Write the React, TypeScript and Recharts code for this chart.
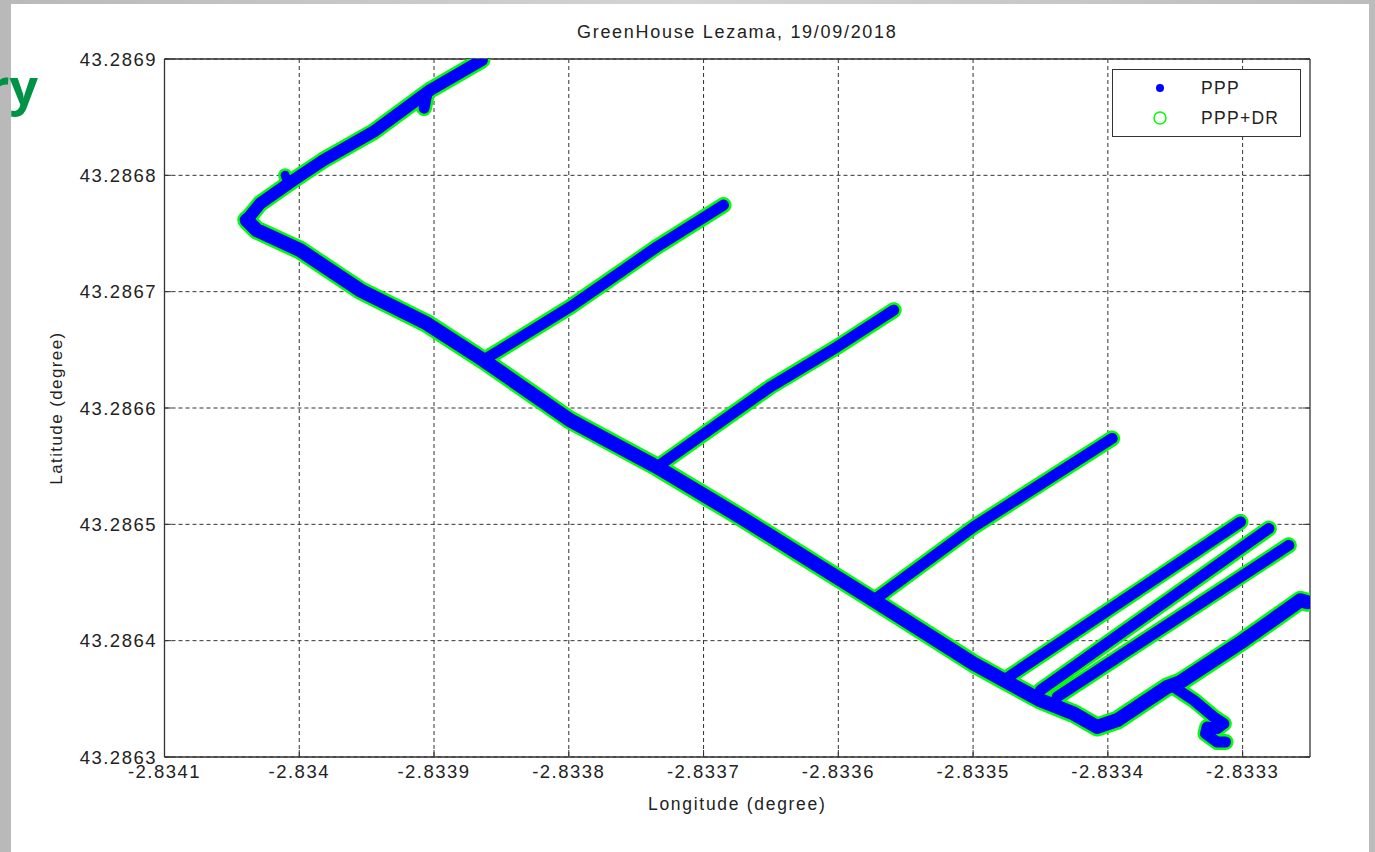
import { ComposedChart, Scatter, XAxis, YAxis, CartesianGrid, Legend } from 'recharts';

type Pt = { lon: number; lat: number };

const X_TICKS = [-2.8341, -2.834, -2.8339, -2.8338, -2.8337, -2.8336, -2.8335, -2.8334, -2.8333];
const Y_TICKS = [43.2863, 43.2864, 43.2865, 43.2866, 43.2867, 43.2868, 43.2869];

// tracks (degrees)
const TOP_BRANCH: Pt[] = [
  { lon: -2.834039, lat: 43.2867615 },
  { lon: -2.834029, lat: 43.2867758 },
  { lon: -2.8340044, lat: 43.2867958 },
  { lon: -2.8339821, lat: 43.286813 },
  { lon: -2.833945, lat: 43.2868374 },
  { lon: -2.8339029, lat: 43.2868732 },
  { lon: -2.8338645, lat: 43.286899 },
];
const MAIN_TRACK: Pt[] = [
  { lon: -2.834039, lat: 43.2867615 },
  { lon: -2.8340316, lat: 43.2867529 },
  { lon: -2.8339994, lat: 43.2867357 },
  { lon: -2.8339549, lat: 43.2867013 },
  { lon: -2.8339053, lat: 43.2866726 },
  { lon: -2.8338633, lat: 43.2866411 },
  { lon: -2.833799, lat: 43.2865895 },
  { lon: -2.8337346, lat: 43.2865493 },
  { lon: -2.8336728, lat: 43.2865064 },
  { lon: -2.8335738, lat: 43.2864347 },
  { lon: -2.8334996, lat: 43.2863803 },
  { lon: -2.8334773, lat: 43.286366 },
  { lon: -2.83345, lat: 43.2863488 },
  { lon: -2.8334253, lat: 43.2863373 },
  { lon: -2.8334079, lat: 43.2863258 },
  { lon: -2.8333931, lat: 43.2863316 },
  { lon: -2.8333708, lat: 43.2863488 },
  { lon: -2.833356, lat: 43.2863602 },
  { lon: -2.8333461, lat: 43.2863645 },
  { lon: -2.8332991, lat: 43.2864003 },
  { lon: -2.833257, lat: 43.2864347 },
  { lon: -2.8332518, lat: 43.286433 },
];
const BRANCH_1: Pt[] = [
  { lon: -2.8338633, lat: 43.2866411 },
  { lon: -2.833799, lat: 43.2866869 },
  { lon: -2.8337346, lat: 43.2867385 },
  { lon: -2.8336852, lat: 43.2867744 },
];
const BRANCH_2: Pt[] = [
  { lon: -2.8337346, lat: 43.2865493 },
  { lon: -2.8336505, lat: 43.2866181 },
  { lon: -2.833601, lat: 43.2866525 },
  { lon: -2.8335589, lat: 43.2866841 },
];
const BRANCH_3: Pt[] = [
  { lon: -2.8335738, lat: 43.2864347 },
  { lon: -2.8334996, lat: 43.2864978 },
  { lon: -2.8333968, lat: 43.2865738 },
];
const BRANCH_4: Pt[] = [
  { lon: -2.8334773, lat: 43.286366 },
  { lon: -2.8333016, lat: 43.2865021 },
];
const BRANCH_5: Pt[] = [
  { lon: -2.83345, lat: 43.2863574 },
  { lon: -2.8332805, lat: 43.2864964 },
];
const BRANCH_6: Pt[] = [
  { lon: -2.8334376, lat: 43.2863516 },
  { lon: -2.8332657, lat: 43.286482 },
];
const HOOK: Pt[] = [
  { lon: -2.8333511, lat: 43.2863602 },
  { lon: -2.8333362, lat: 43.2863488 },
  { lon: -2.8333214, lat: 43.2863344 },
  { lon: -2.8333139, lat: 43.2863287 },
  { lon: -2.8333189, lat: 43.2863244 },
  { lon: -2.8333263, lat: 43.2863258 },
  { lon: -2.8333275, lat: 43.2863201 },
  { lon: -2.8333189, lat: 43.2863129 },
  { lon: -2.8333127, lat: 43.2863129 },
];
const BLIP_A: Pt[] = [
  { lon: -2.8340105, lat: 43.2868001 },
  { lon: -2.8340083, lat: 43.2867933 },
];
const BLIP_B: Pt[] = [
  { lon: -2.8339051, lat: 43.2868715 },
  { lon: -2.8339074, lat: 43.2868578 },
];

const PATHS = [
  { name: 'top', points: TOP_BRANCH, width: 12 },
  { name: 'main', points: MAIN_TRACK, width: 14 },
  { name: 'b1', points: BRANCH_1, width: 11 },
  { name: 'b2', points: BRANCH_2, width: 11 },
  { name: 'b3', points: BRANCH_3, width: 11 },
  { name: 'b4', points: BRANCH_4, width: 11 },
  { name: 'b5', points: BRANCH_5, width: 11 },
  { name: 'b6', points: BRANCH_6, width: 11 },
  { name: 'hook', points: HOOK, width: 11 },
  { name: 'blipA', points: BLIP_A, width: 9 },
  { name: 'blipB', points: BLIP_B, width: 11 },
];

const BLUE = '#0000ff';
const GREEN = '#00ff00';
const FONT = '"Liberation Sans", Arial, sans-serif';
const TEXT = '#222';

const NoDot = () => <g />;

const tickStyle = { fill: TEXT, fontSize: 18.5, fontFamily: FONT, letterSpacing: 1.5 };

function LegendBox() {
  return (
    <div
      style={{
        width: 189,
        height: 68,
        boxSizing: 'border-box',
        border: '1px solid #333',
        background: '#fff',
        position: 'relative',
        fontFamily: FONT,
        fontSize: 17.5,
        letterSpacing: 1.3,
        color: TEXT,
      }}
    >
      <svg width={189} height={68} style={{ position: 'absolute', left: 0, top: 0 }}>
        <circle cx={47} cy={18} r={4} fill={BLUE} />
        <circle cx={47} cy={48} r={6} fill="none" stroke={GREEN} strokeWidth={1.5} />
        <text x={88} y={18} dominantBaseline="central" fill={TEXT}>PPP</text>
        <text x={88} y={48} dominantBaseline="central" fill={TEXT}>PPP+DR</text>
      </svg>
    </div>
  );
}

export default function App() {
  return (
    <div
      style={{
        position: 'fixed',
        left: 0,
        top: 0,
        width: 1375,
        height: 852,
        background: 'linear-gradient(90deg, #b9b9b9, #d4d4d4 50%, #bcbcbc)',
        overflow: 'hidden',
      }}
    >
      <div style={{ position: 'absolute', left: 11, top: 4, width: 1358, height: 848, background: '#fff' }} />
      <div
        style={{
          position: 'absolute',
          right: 1337,
          top: 52,
          fontFamily: '"Open Sans", "Liberation Sans", sans-serif',
          fontWeight: 700,
          fontSize: 50,
          color: '#009245',
          whiteSpace: 'nowrap',
        }}
      >
        ry
      </div>
      <div
        style={{
          position: 'absolute',
          left: 164.5,
          width: 1145.5,
          top: 22,
          textAlign: 'center',
          fontFamily: FONT,
          fontSize: 18,
          letterSpacing: 1.7,
          color: TEXT,
        }}
      >
        GreenHouse Lezama, 19/09/2018
      </div>
      <div
        style={{
          position: 'absolute',
          left: 164.5,
          width: 1145.5,
          top: 794,
          textAlign: 'center',
          fontFamily: FONT,
          fontSize: 17.5,
          letterSpacing: 1.7,
          color: TEXT,
        }}
      >
        Longitude (degree)
      </div>
      <div
        style={{
          position: 'absolute',
          left: 57,
          top: 408,
          transform: 'translate(-50%, -50%) rotate(-90deg)',
          fontFamily: FONT,
          fontSize: 17,
          letterSpacing: 1.4,
          color: TEXT,
          whiteSpace: 'nowrap',
        }}
      >
        Latitude (degree)
      </div>
      <div style={{ position: 'absolute', left: 0, top: 0 }}>
        <ComposedChart width={1375} height={852} margin={{ top: 54, right: 60, bottom: 55, left: 64.5 }}>
          <CartesianGrid stroke="#333" strokeDasharray="4 3" strokeWidth={1} horizontalValues={Y_TICKS} verticalValues={X_TICKS} />
          <XAxis
            xAxisId={0}
            type="number"
            dataKey="lon"
            domain={[-2.8341, -2.83325]}
            allowDataOverflow
            ticks={X_TICKS}
            interval={0}
            height={40}
            tickSize={-7}
            tickMargin={15}
            tick={tickStyle}
            axisLine={{ stroke: '#333', strokeWidth: 1.3 }}
            tickLine={{ stroke: '#333' }}
          />
          <XAxis
            xAxisId="top"
            orientation="top"
            type="number"
            domain={[-2.8341, -2.83325]}
            allowDataOverflow
            ticks={X_TICKS}
            interval={0}
            height={5}
            tickSize={-7}
            tickFormatter={() => ''}
            axisLine={{ stroke: '#333', strokeWidth: 1.3 }}
            tickLine={{ stroke: '#333' }}
          />
          <YAxis
            yAxisId={0}
            type="number"
            dataKey="lat"
            domain={[43.2863, 43.2869]}
            allowDataOverflow
            ticks={Y_TICKS}
            interval={0}
            width={100}
            tickSize={-7}
            tickMargin={14.5}
            tick={tickStyle}
            axisLine={{ stroke: '#333', strokeWidth: 1.3 }}
            tickLine={{ stroke: '#333' }}
          />
          <YAxis
            yAxisId="right"
            orientation="right"
            type="number"
            domain={[43.2863, 43.2869]}
            allowDataOverflow
            ticks={Y_TICKS}
            interval={0}
            width={5}
            tickSize={-7}
            tickFormatter={() => ''}
            axisLine={{ stroke: '#333', strokeWidth: 1.3 }}
            tickLine={{ stroke: '#333' }}
          />
          <Legend
            layout="vertical"
            align="center"
            verticalAlign="middle"
            content={() => <LegendBox />}
            wrapperStyle={{ left: 1112, top: 69, width: 189, height: 68 }}
          />
          {PATHS.map((p) => (
            <Scatter
              key={'g-' + p.name}
              name={p.name}
              data={p.points}
              fill={GREEN}
              line={{ stroke: GREEN, strokeWidth: p.width + 5, strokeLinecap: 'round', strokeLinejoin: 'round' }}
              shape={NoDot}
              legendType="none"
              isAnimationActive={false}
            />
          ))}
          {PATHS.map((p) => (
            <Scatter
              key={'b-' + p.name}
              name={p.name}
              data={p.points}
              fill={BLUE}
              line={{ stroke: BLUE, strokeWidth: p.width, strokeLinecap: 'round', strokeLinejoin: 'round' }}
              shape={NoDot}
              legendType="none"
              isAnimationActive={false}
            />
          ))}
        </ComposedChart>
      </div>
    </div>
  );
}
